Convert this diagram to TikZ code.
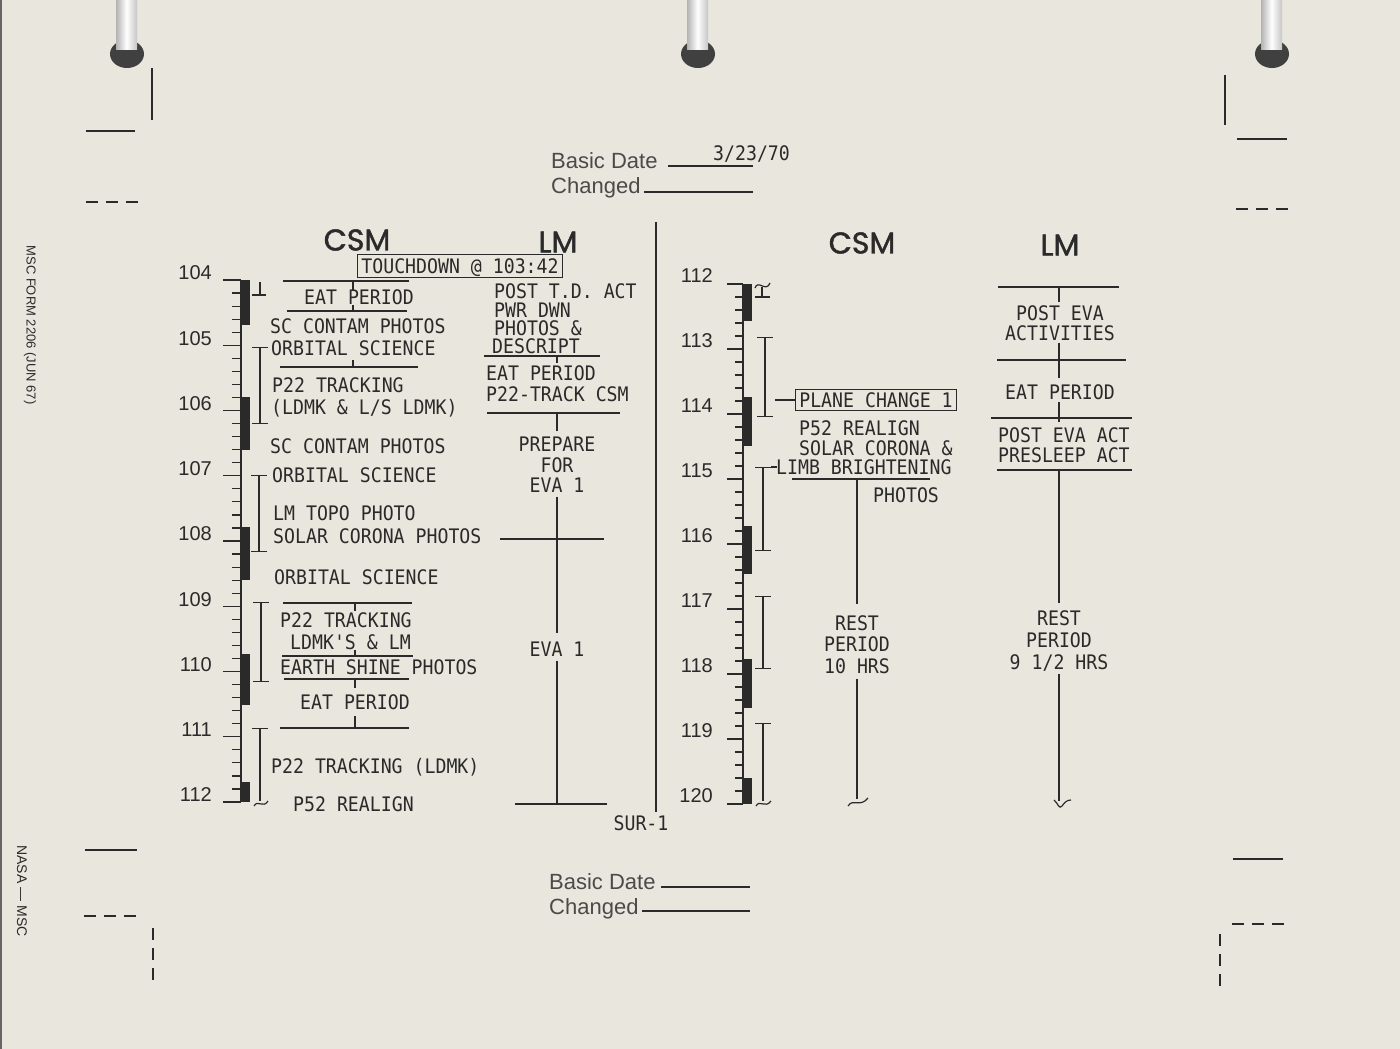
\documentclass[tikz,border=0pt]{standalone}
\usepackage{fontspec}
\setmainfont{Liberation Sans}
\newfontfamily\typefont[FakeStretch=0.91]{DejaVu Sans Mono}
\newfontfamily\headfont[FakeBold=1.5]{Poppins}
\usetikzlibrary{arrows.meta}
\definecolor{paper}{RGB}{233,230,221}
\definecolor{ink}{RGB}{42,42,42}
\newcommand\tyt{\typefont\fontsize{20}{22}\selectfont}

\begin{document}
\begin{tikzpicture}[x=1pt, y=-1pt,
  act/.style={font=\tyt, text=ink, inner sep=0pt, text height=14.6pt, text depth=0pt},
  colhead/.style={font=\headfont\fontsize{30}{32}\selectfont, text=ink, inner sep=0pt},
  hour/.style={font=\fontsize{20}{22}\selectfont, text=ink, anchor=east, inner sep=0pt},
  formtext/.style={font=\fontsize{22}{24}\selectfont, text=ink!85, anchor=base west, inner sep=0pt},
  rule/.style={draw=ink, line width=1.2pt},
  span/.style={rule, {Bar[width=16pt]}-{Bar[width=16pt]}},
  topspan/.style={rule, {Bar[width=16pt]}-},
  timebar/.style={fill=ink},
  cropline/.style={draw=ink, line width=1.8pt},
  cropdash/.style={cropline, dash pattern=on 12pt off 8pt}
]
  \useasboundingbox (0,0) rectangle (1400,1049);
  \fill[paper] (0,0) rectangle (1400,1049);
  \fill[black!60] (0,0) rectangle (2,1049);

  % binder rings
  \foreach \rx in {127,698,1272} {
    \fill[black!75] (\rx,54) ellipse (17pt and 14pt);
    \shade[left color=gray!60, right color=gray!45, middle color=white]
      ({\rx-11},0) rectangle ({\rx+10},50);
  }

  % crop marks
  \draw[cropline] (152,68) -- (152,120);
  \draw[cropline] (86,131) -- (135,131);
  \draw[cropdash] (86,202) -- (138,202);
  \draw[cropline] (1225,75) -- (1225,125);
  \draw[cropline] (1237,139) -- (1287,139);
  \draw[cropdash] (1236,209) -- (1288,209);
  \draw[cropline] (85,850) -- (137,850);
  \draw[cropdash] (84,916) -- (136,916);
  \draw[cropdash] (153,928) -- (153,980);
  \draw[cropline] (1233,859) -- (1283,859);
  \draw[cropdash] (1232,924) -- (1284,924);
  \draw[cropdash] (1220,934) -- (1220,986);

  % side imprint
  \node[font=\fontsize{13}{13}\selectfont, text=ink, rotate=-90] (form) at (30,325) {MSC FORM 2206 (JUN 67)};
  \node[font=\fontsize{14}{14}\selectfont, text=ink, rotate=-90] (nasa) at (22,891) {NASA --- MSC};

  % dates
  \node[formtext] (bd1) at (551,168) {Basic Date};
  \node[act, anchor=west] (date) at (713,153) {3/23/70};
  \draw[rule] (668,166) -- (753,166);
  \node[formtext] (ch1) at (551,193) {Changed};
  \draw[rule] (644,192) -- (753,192);
  \node[formtext] (bd2) at (549,889) {Basic Date};
  \draw[rule] (661,887) -- (750,887);
  \node[formtext] (ch2) at (549,914) {Changed};
  \draw[rule] (642,911) -- (750,911);

  % column heads
  \node[colhead] (csmL) at (357,240) {CSM};
  \node[colhead] (lmL) at (558,242) {LM};
  \node[colhead] (csmR) at (862,243) {CSM};
  \node[colhead] (lmR) at (1060,245) {LM};

  % time scales
  \foreach \h [evaluate=\h as \lbl using {int(104+\h)}] in {0,...,8} {
    \node[hour] (t\lbl) at (212,{280+65.25*\h-7}) {\lbl};
    \draw[rule] (223,{280+65.25*\h}) -- (241,{280+65.25*\h});
  }
  \foreach \m in {1,...,39}
    \draw[rule] (232,{280+65.25*\m/5}) -- (241,{280+65.25*\m/5});
  \draw[rule] (241,280) -- (241,802);
  \foreach \h [evaluate=\h as \lbl using {int(112+\h)}] in {0,...,8} {
    \node[hour] (u\lbl) at (713,{284+65*\h-8}) {\lbl};
    \draw[rule] (727,{284+65*\h}) -- (743,{284+65*\h});
  }
  \foreach \m in {1,...,39}
    \draw[rule] (735,{284+65*\m/5}) -- (743,{284+65*\m/5});
  \draw[rule] (743,284) -- (743,804);

  % blackout bars
  \fill[timebar] (241,280) rectangle (250,325);
  \fill[timebar] (241,397) rectangle (250,450);
  \fill[timebar] (241,527) rectangle (250,580);
  \fill[timebar] (241,654) rectangle (250,705);
  \fill[timebar] (241,782) rectangle (250,802);
  \fill[timebar] (743,284) rectangle (752,321);
  \fill[timebar] (743,397) rectangle (752,446);
  \fill[timebar] (743,526) rectangle (752,574);
  \fill[timebar] (743,659) rectangle (752,708);
  \fill[timebar] (743,778) rectangle (752,804);

  % contact spans
  \draw[rule] (260,282) -- (260,295);
  \draw[rule] (252,295) -- (266,295);
  \draw[span] (260,347) -- (260,424);
  \draw[span] (259,475) -- (259,552);
  \draw[span] (261,602) -- (261,682);
  \draw[topspan] (260,728) -- (260,801);
  \draw[rule] (254,806) .. controls (258,799) and (263,809) .. (268,801);
  \draw[rule] (755,288) .. controls (758,279) and (766,293) .. (770,283);
  \draw[rule] (762,287) -- (762,297);
  \draw[rule] (755,297) -- (770,297);
  \draw[span] (765,337) -- (765,417);
  \draw[span] (763,467) -- (763,551);
  \draw[rule] (771,467) -- (777,467);
  \draw[span] (763,596) -- (763,669);
  \draw[topspan] (763,723) -- (763,801);
  \draw[rule] (756,806) .. controls (760,799) and (765,809) .. (771,801);

  % CSM, left page
  \node[act, draw=ink, line width=1.2pt, inner xsep=3.5pt, inner ysep=4pt] (td) at (460,266) {TOUCHDOWN @ 103:42};
  \draw[rule] (283,281) -- (409,281);
  \draw[rule] (353,281) -- (353,290);
  \node[act] (eat1) at (359,297) {EAT PERIOD};
  \draw[rule] (287,311) -- (407,311);
  \draw[rule] (353,305) -- (353,312);
  \node[act, anchor=west] (sc1) at (270,326) {SC CONTAM PHOTOS};
  \node[act, anchor=west] (orb1) at (271,348) {ORBITAL SCIENCE};
  \draw[rule] (353,360) -- (353,367);
  \draw[rule] (280,367) -- (418,367);
  \node[act, anchor=west] (p22a) at (272,385) {P22 TRACKING};
  \node[act, anchor=west] (p22b) at (271,407) {(LDMK \& L/S LDMK)};
  \node[act, anchor=west] (sc2) at (270,446) {SC CONTAM PHOTOS};
  \node[act, anchor=west] (orb2) at (272,475) {ORBITAL SCIENCE};
  \node[act, anchor=west] (topo) at (273,513) {LM TOPO PHOTO};
  \node[act, anchor=west] (solar1) at (273,536) {SOLAR CORONA PHOTOS};
  \node[act, anchor=west] (orb3) at (274,577) {ORBITAL SCIENCE};
  \draw[rule] (283,603) -- (412,603);
  \draw[rule] (355,603) -- (355,611);
  \node[act, anchor=west] (p22c) at (280,620) {P22 TRACKING};
  \node[act, anchor=west] (ldmk) at (290,642) {LDMK'S \& LM};
  \draw[rule] (355,650) -- (355,656);
  \draw[rule] (282,656) -- (413,656);
  \node[act, anchor=west] (earth) at (280,667) {EARTH SHINE PHOTOS};
  \draw[rule] (284,679) -- (409,679);
  \draw[rule] (355,679) -- (355,688);
  \node[act, anchor=west] (eat2) at (300,702) {EAT PERIOD};
  \draw[rule] (355,716) -- (355,728);
  \draw[rule] (280,728) -- (409,728);
  \node[act, anchor=west] (p22d) at (271,766) {P22 TRACKING (LDMK)};
  \node[act, anchor=west] (p52a) at (293,804) {P52 REALIGN};

  % LM, left page
  \node[act, anchor=west] (ptd) at (494,291) {POST T.D. ACT};
  \node[act, anchor=west] (pwr) at (494,310) {PWR DWN};
  \node[act, anchor=west] (pho) at (494,328) {PHOTOS \&};
  \node[act, anchor=west] (desc) at (492,346) {DESCRIPT};
  \draw[rule] (484,356) -- (600,356);
  \draw[rule] (557,356) -- (557,363);
  \node[act, anchor=west] (eat3) at (486,373) {EAT PERIOD};
  \node[act, anchor=west] (trk) at (486,394) {P22-TRACK CSM};
  \draw[rule] (487,413) -- (620,413);
  \draw[rule] (557,413) -- (557,431);
  \node[act] (pfe1) at (557,444) {PREPARE};
  \node[act] (pfe2) at (557,465) {FOR};
  \node[act] (pfe3) at (557,485) {EVA 1};
  \node[act] (eva) at (557,649) {EVA 1};
  \coordinate (lmend) at (557,804);
  \draw[rule, shorten <=4pt, shorten >=9pt] (pfe3.south) -- (eva.north);
  \draw[rule] (500,539) -- (604,539);
  \draw[rule, shorten <=4pt] (eva.south) -- (lmend);
  \draw[rule] (515,804) -- (607,804);

  % page divider
  \draw[rule] (656,222) -- (656,812);
  \node[act] (sur) at (641,823) {SUR-1};

  % CSM, right page
  \node[act, draw=ink, line width=1.2pt, inner xsep=4pt, inner ysep=3.5pt] (plane) at (876,400) {PLANE CHANGE 1};
  \coordinate (planetick) at (775,400);
  \draw[rule] (planetick) -- (plane.west);
  \node[act, anchor=west] (p52b) at (799,428) {P52 REALIGN};
  \node[act, anchor=west] (solar2) at (799,448) {SOLAR CORONA \&};
  \node[act, anchor=west] (limb) at (776,467) {LIMB BRIGHTENING};
  \draw[rule] (792,479) -- (930,479);
  \node[act, anchor=west] (pho2) at (873,495) {PHOTOS};
  \coordinate (csmsplit) at (857,479);
  \node[act] (rc1) at (857,623) {REST};
  \node[act] (rc2) at (857,644) {PERIOD};
  \node[act] (rc3) at (857,666) {10 HRS};
  \coordinate (csmend) at (857,799);
  \draw[rule, shorten >=12pt] (csmsplit) -- (rc1.north);
  \draw[rule, shorten <=5pt] (rc3.south) -- (csmend);
  \draw[rule] (848,806) .. controls (853,798) and (860,808) .. (868,798);

  % LM, right page
  \draw[rule] (998,287) -- (1119,287);
  \draw[rule] (1059,287) -- (1059,302);
  \node[act] (pe1) at (1060,313) {POST EVA};
  \node[act] (pe2) at (1060,333) {ACTIVITIES};
  \draw[rule] (1059,343) -- (1059,378);
  \draw[rule] (997,360) -- (1126,360);
  \node[act] (eat4) at (1060,392) {EAT PERIOD};
  \draw[rule] (1059,402) -- (1059,422);
  \draw[rule] (991,418) -- (1132,418);
  \node[act, anchor=west] (pea) at (998,435) {POST EVA ACT};
  \node[act, anchor=west] (psa) at (998,455) {PRESLEEP ACT};
  \draw[rule] (997,470) -- (1132,470);
  \coordinate (lmsplit) at (1059,470);
  \node[act] (rl1) at (1059,618) {REST};
  \node[act] (rl2) at (1059,640) {PERIOD};
  \node[act] (rl3) at (1059,662) {9 1/2 HRS};
  \coordinate (lmrend) at (1059,801);
  \draw[rule, shorten >=8pt] (lmsplit) -- (rl1.north);
  \draw[rule, shorten <=4pt] (rl3.south) -- (lmrend);
  \draw[rule] (1054,800) .. controls (1058,803) and (1059,810) .. (1062,806) .. controls (1065,802) and (1067,800) .. (1071,800);
\end{tikzpicture}
\end{document}
